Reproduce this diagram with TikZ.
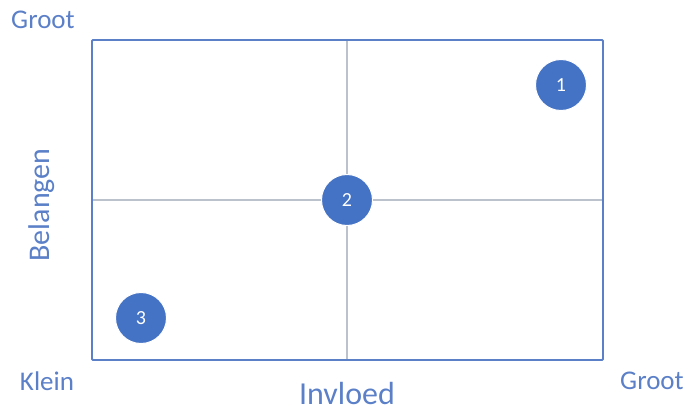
\documentclass[tikz,border=0pt]{standalone}
\usepackage{fontspec}
\setmainfont{Carlito}
\usepackage{tikz}
\usetikzlibrary{positioning}
\definecolor{matrixblue}{HTML}{4472C4}
\definecolor{axisblue}{HTML}{5B80C8}
\definecolor{gridgray}{HTML}{BCC2CB}
\tikzset{
  frame/.style={draw=axisblue, line width=1.8pt, rounded corners=1pt},
  gridline/.style={draw=gridgray, line width=2pt},
  stakeholder/.style={circle, fill=matrixblue, draw=white, line width=1pt,
                      minimum size=51pt, inner sep=0pt, text=white,
                      font=\fontsize{20}{22}\selectfont},
  axislabel/.style={text=axisblue, font=\fontsize{27}{30}\selectfont, inner sep=0pt},
  axistitle/.style={text=axisblue, font=\fontsize{32}{35}\selectfont, inner sep=0pt}
}
\begin{document}
\begin{tikzpicture}[x=1pt,y=-1pt]
  \useasboundingbox (0,0) rectangle (689,412);

  % Quadrant grid.
  \coordinate (tl) at (92,40);
  \coordinate (br) at (603,360);
  \coordinate (midtop) at (347,40);
  \coordinate (midbot) at (347,360);
  \coordinate (midleft) at (92,200);
  \coordinate (midright) at (603,200);
  \draw[gridline] (midtop) -- (midbot);
  \draw[gridline] (midleft) -- (midright);
  \draw[frame] (tl) rectangle (br);

  % Axis labels.
  \node[axislabel] (ytop) at (43,20) {Groot};
  \node[axislabel] (xleft) at (47,381) {Klein};
  \node[axislabel] (xright) at (652,381) {Groot};
  \node[axistitle] (xtitle) at (347,393) {Invloed};
  \node[axistitle, font=\fontsize{30}{33}\selectfont, rotate=90] (ytitle) at (42,205) {Belangen};

  % Stakeholders.
  \node[stakeholder] (s1) at (561,85) {1};
  \node[stakeholder] (s2) at (347,200) {2};
  \node[stakeholder] (s3) at (141,318) {3};
\end{tikzpicture}
\end{document}
